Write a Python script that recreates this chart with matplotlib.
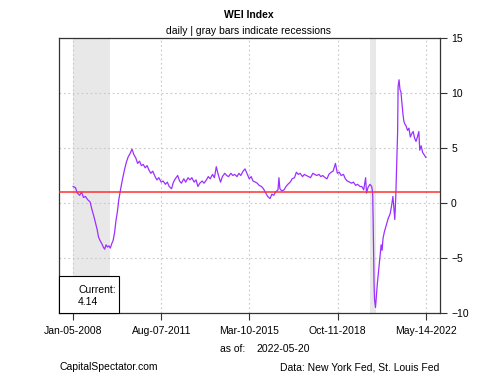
import pandas as pd
import numpy as np
from matplotlib import pyplot as plt
import matplotlib.dates as mdates
from matplotlib.patches import Rectangle

plt.rcParams['font.family'] = ['Liberation Sans', 'DejaVu Sans']

# WEI weekly readings
dates = ['2008-01-05', '2008-02-09', '2008-03-08', '2008-04-12', '2008-05-10', '2008-06-07',
         '2008-07-05', '2008-08-09', '2008-09-13', '2008-10-11', '2008-11-08', '2008-12-06',
         '2008-12-27', '2009-01-17', '2009-02-07', '2009-03-07', '2009-03-28', '2009-04-18',
         '2009-05-09', '2009-05-30', '2009-06-20', '2009-07-11', '2009-08-01', '2009-08-22',
         '2009-09-12', '2009-10-03', '2009-10-24', '2009-11-14', '2009-12-12', '2010-01-09',
         '2010-02-06', '2010-03-06', '2010-04-03', '2010-05-01', '2010-05-29', '2010-06-26',
         '2010-07-24', '2010-08-21', '2010-09-18', '2010-10-16', '2010-11-13', '2010-12-11',
         '2011-01-08', '2011-02-05', '2011-03-05', '2011-04-02', '2011-05-07', '2011-06-04',
         '2011-07-02', '2011-08-06', '2011-09-03', '2011-10-08', '2011-11-05', '2011-12-03',
         '2012-01-07', '2012-02-04', '2012-03-03', '2012-04-07', '2012-05-05', '2012-06-02',
         '2012-07-07', '2012-08-04', '2012-09-08', '2012-10-06', '2012-11-03', '2012-12-08',
         '2013-01-05', '2013-02-02', '2013-03-02', '2013-04-06', '2013-05-04', '2013-06-08',
         '2013-07-06', '2013-08-03', '2013-09-07', '2013-10-05', '2013-11-02', '2013-11-30',
         '2014-01-04', '2014-02-01', '2014-03-08', '2014-04-05', '2014-05-03', '2014-06-07',
         '2014-07-05', '2014-08-02', '2014-09-06', '2014-10-04', '2014-11-01', '2014-12-06',
         '2015-01-03', '2015-02-07', '2015-03-07', '2015-04-04', '2015-05-02', '2015-06-06',
         '2015-07-04', '2015-08-01', '2015-09-05', '2015-10-03', '2015-11-07', '2015-12-05',
         '2016-01-09', '2016-02-06', '2016-03-05', '2016-04-02', '2016-05-07', '2016-05-21',
         '2016-06-04', '2016-07-02', '2016-08-06', '2016-09-03', '2016-10-01', '2016-11-05',
         '2016-12-03', '2017-01-07', '2017-02-04', '2017-03-04', '2017-04-01', '2017-05-06',
         '2017-06-03', '2017-07-01', '2017-08-05', '2017-09-02', '2017-10-07', '2017-11-04',
         '2017-12-02', '2018-01-06', '2018-02-03', '2018-03-03', '2018-04-07', '2018-05-05',
         '2018-06-02', '2018-07-07', '2018-08-04', '2018-09-08', '2018-10-06', '2018-11-03',
         '2018-12-01', '2019-01-05', '2019-02-02', '2019-03-02', '2019-04-06', '2019-05-04',
         '2019-06-01', '2019-07-06', '2019-08-03', '2019-09-07', '2019-10-05', '2019-11-02',
         '2019-11-30', '2019-12-14', '2020-01-04', '2020-02-01', '2020-02-29', '2020-03-14',
         '2020-03-21', '2020-03-28', '2020-04-04', '2020-04-11', '2020-04-25', '2020-05-09',
         '2020-05-23', '2020-06-06', '2020-06-20', '2020-07-04', '2020-07-18', '2020-08-01',
         '2020-08-15', '2020-09-05', '2020-10-03', '2020-10-31', '2020-11-28', '2020-12-19',
         '2021-01-09', '2021-01-23', '2021-02-06', '2021-02-20', '2021-03-06', '2021-03-20',
         '2021-03-27', '2021-04-10', '2021-04-24', '2021-05-08', '2021-05-22', '2021-06-05',
         '2021-06-19', '2021-07-03', '2021-07-24', '2021-08-14', '2021-09-04', '2021-09-25',
         '2021-10-16', '2021-11-06', '2021-11-27', '2021-12-18', '2022-01-08', '2022-01-29',
         '2022-02-12', '2022-03-05', '2022-03-26', '2022-04-16', '2022-05-14']
wei = [1.5, 1.4, 0.9, 0.7, 1.0, 0.5,
       0.6, 0.3, 0.1, -0.6, -1.2, -1.9,
       -2.4, -3.1, -3.4, -3.7, -4.0, -4.2,
       -3.8, -4.0, -3.9, -4.1, -3.7, -3.4,
       -2.7, -1.6, -0.8, 0.3, 1.3, 2.2,
       3.0, 3.7, 4.2, 4.5, 4.9, 4.4,
       4.1, 3.6, 3.8, 3.4, 3.5, 3.2,
       3.4, 3.0, 2.7, 2.9, 2.4, 2.1,
       2.3, 1.9, 2.0, 1.7, 1.9, 1.5,
       1.3, 1.9, 2.2, 2.5, 2.0, 1.8,
       2.2, 1.9, 2.3, 2.1, 2.3, 1.9,
       2.1, 1.5, 1.8, 2.0, 1.8, 2.1,
       2.4, 2.2, 2.6, 2.3, 3.3, 2.6,
       1.9, 2.4, 2.7, 2.5, 2.4, 2.7,
       2.5, 2.6, 2.4, 2.7, 2.5, 2.9,
       3.1, 2.6, 2.2, 2.4, 2.0, 1.9,
       1.8, 1.6, 1.5, 1.3, 0.9, 0.6,
       0.4, 0.8, 0.7, 1.0, 1.2, 2.3,
       1.3, 1.1, 1.2, 1.5, 1.7, 1.9,
       2.2, 2.3, 2.8, 2.6, 2.7, 2.4,
       2.6, 2.5, 2.4, 2.3, 2.7, 2.6,
       2.5, 2.6, 2.4, 2.5, 2.3, 2.2,
       2.6, 2.8, 2.9, 3.6, 2.7, 2.8,
       2.5, 2.6, 2.2, 2.0, 1.9, 1.8,
       1.9, 1.6, 1.7, 1.5, 1.5, 1.2,
       2.3, 0.9, 1.4, 1.7, 1.5, 0.9,
       -1.5, -4.5, -7.5, -8.8, -9.5, -8.4,
       -7.3, -6.4, -5.5, -4.7, -3.8, -4.3,
       -3.2, -2.6, -2.0, -1.4, -1.0, -0.3,
       0.6, -0.5, -1.5, 0.5, 3.5, 6.5,
       10.6, 11.2, 10.3, 10.1, 9.1, 8.2,
       7.5, 7.2, 7.0, 6.6, 6.8, 6.0,
       6.3, 6.5, 5.9, 5.6, 6.0, 6.5,
       4.8, 5.2, 4.6, 4.4, 4.14]

rec_start = ['2007-12-01', '2020-02-01']
rec_end = ['2009-06-30', '2020-04-30']
tick_dates = ['2008-01-05', '2011-08-07', '2015-03-10', '2018-10-11', '2022-05-14']
tick_labels = ['Jan-05-2008', 'Aug-07-2011', 'Mar-10-2015', 'Oct-11-2018', 'May-14-2022']
ref_level = 1.0

df = pd.DataFrame({'date': pd.to_datetime(dates), 'wei': wei})

fig = plt.figure(figsize=(5, 3.75), dpi=100)
ax = fig.add_axes([0.118, 0.1653, 0.762, 0.7334])

x0 = mdates.date2num(df.date.iloc[0])
x1 = mdates.date2num(df.date.iloc[-1])
pad = (x1 - x0) * 0.04
ax.set_xlim(x0 - pad, x1 + pad)
ax.set_ylim(-10, 15)

for s, e in zip(rec_start, rec_end):
    s = max(pd.Timestamp(s), df.date.iloc[0])
    ax.axvspan(s, pd.Timestamp(e), color='#e8e8e8', lw=0, zorder=0)

ax.set_xticks(pd.to_datetime(tick_dates))
ax.set_xticklabels(tick_labels)
ax.set_yticks([-10, -5, 0, 5, 10, 15])
ax.grid(True, color='#c8c8c8', ls=(0, (1.5, 2.5)), lw=0.8, zorder=1)

ax.plot(df.date, df.wei, color='#9B30FF', lw=0.9, zorder=3)
ax.axhline(ref_level, color='#ff3030', lw=1.1, zorder=4)

ax.yaxis.tick_right()
ax.tick_params(axis='both', labelsize=7.5, length=5, width=0.8, color='#333333')
ax.tick_params(axis='x', pad=4)
ax.tick_params(axis='y', pad=3)
for sp in ax.spines.values():
    sp.set_linewidth(0.9)
    sp.set_color('#333333')

# "Current" box in the lower-left corner
ax.add_patch(Rectangle((0, 0), 0.1575, 0.1345, transform=ax.transAxes, fc='white',
                       ec='black', lw=0.8, zorder=6, clip_on=False))
ax.text(0.05, 0.085, 'Current:', transform=ax.transAxes, fontsize=7.5,
        ha='left', va='center', zorder=7)
ax.text(0.05, 0.04, '4.14', transform=ax.transAxes, fontsize=7.5,
        ha='left', va='center', zorder=7)

fig.text(0.498, 0.959, 'WEI Index', ha='center', va='center', fontsize=7.5, fontweight='bold')
fig.text(0.498, 0.918, 'daily | gray bars indicate recessions', ha='center', va='center', fontsize=7.5)
fig.text(0.439, 0.069, 'as of:', ha='left', va='center', fontsize=7.5)
fig.text(0.512, 0.069, '2022-05-20', ha='left', va='center', fontsize=7.5)
fig.text(0.118, 0.021, 'CapitalSpectator.com', ha='left', va='center', fontsize=7.5)
fig.text(0.879, 0.021, 'Data: New York Fed, St. Louis Fed', ha='right', va='center', fontsize=7.5)

fig.savefig('out.png', dpi=100)
